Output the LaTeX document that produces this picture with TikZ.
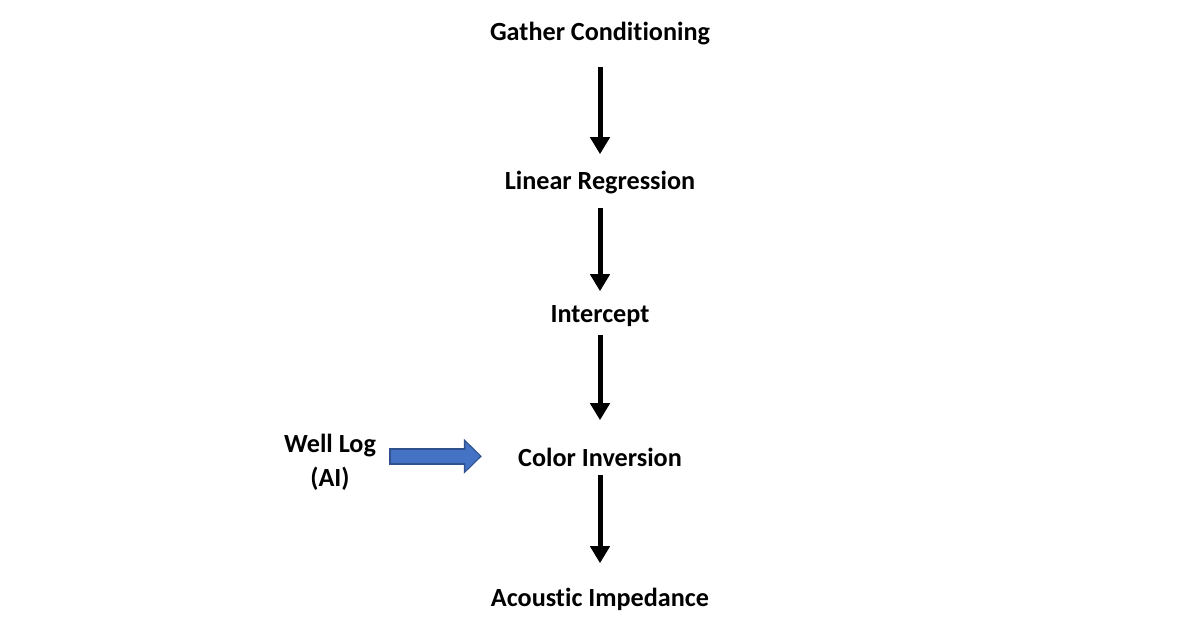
\documentclass[tikz,border=0pt]{standalone}
\usepackage{fontspec}
\setmainfont{Carlito}[Ligatures=NoCommon]
\usetikzlibrary{arrows.meta}
\definecolor{arrowblue}{HTML}{4472C4}
\definecolor{arrowedge}{HTML}{2F528F}
\tikzset{
	stage/.style={font=\fontsize{14.9}{17}\selectfont\bfseries, inner sep=0pt, text height=0.65em, text depth=0pt, anchor=base},
	flow/.style={draw=black, line width=0.1cm, -{Triangle[width=0.38cm,length=0.34cm]}},
	feed/.style={draw=arrowedge, line width=0.33cm, -{Triangle[width=0.68cm,length=0.36cm]}},
	feed inner/.style={draw=arrowblue, line width=0.26cm, -{Triangle[width=0.56cm,length=0.29cm]}}
}

\begin{document}
\begin{tikzpicture}
	\fill[white] (0,0) rectangle (24,12.8);
	\useasboundingbox (0,0) rectangle (24,12.8);
	% main chain
	\node[stage] (gather) at (12,11.98) {Gather Conditioning};
	\node[stage] (regress) at (12,9.0) {Linear Regression};
	\node[stage] (intercept) at (12,6.34) {Intercept};
	\node[stage] (inversion) at (12,3.46) {Color Inversion};
	\node[stage] (impedance) at (12,0.66) {Acoustic Impedance};
	% side input
	\node[stage, align=center, text height=, anchor=north, font=\fontsize{14.9}{19.5}\selectfont\bfseries] (welllog) at (6.6,4.12) {Well Log\\(AI)};
	\draw[flow, shorten <=0.52cm, shorten >=0.48cm] (gather) -- (regress);
	\draw[flow, shorten <=0.36cm, shorten >=0.40cm] (regress) -- (intercept);
	\draw[flow, shorten <=0.24cm, shorten >=0.70cm] (intercept) -- (inversion);
	\draw[flow, shorten <=0.16cm, shorten >=0.64cm] (inversion) -- (impedance);
	\draw[feed, shorten <=0.26cm, shorten >=0.72cm] (welllog.east |- inversion.west) ++(0,0.1) -- ([yshift=0.1cm]inversion.west);
	\draw[feed inner, shorten <=0.29cm, shorten >=0.76cm] (welllog.east |- inversion.west) ++(0,0.1) -- ([yshift=0.1cm]inversion.west);
\end{tikzpicture}
\end{document}
